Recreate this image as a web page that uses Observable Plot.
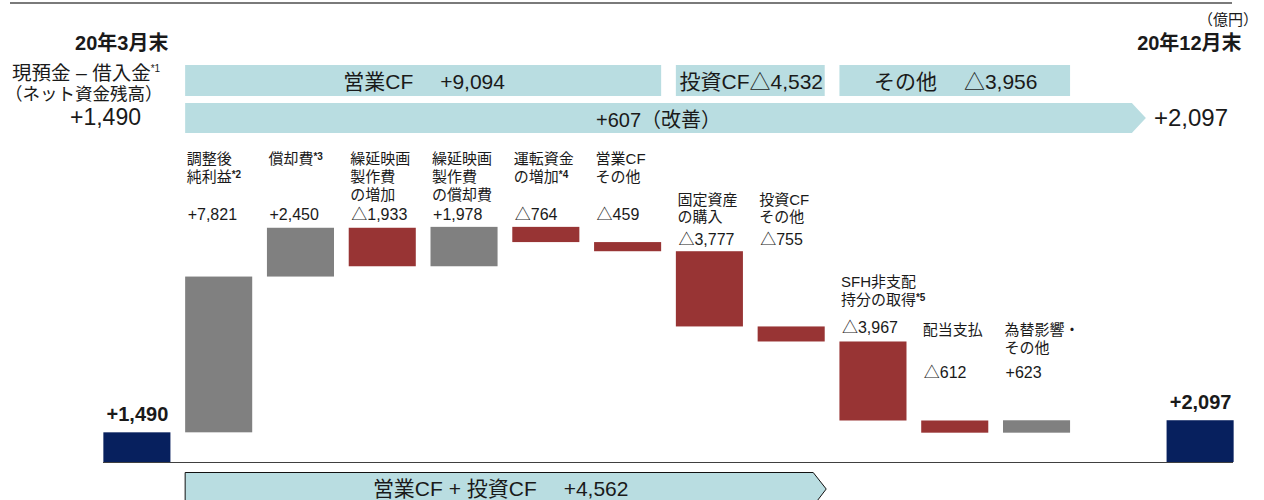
<!DOCTYPE html>
<html><head><meta charset="utf-8">
<script src="https://cdn.jsdelivr.net/npm/d3@7"></script>
<script src="https://cdn.jsdelivr.net/npm/@observablehq/plot@0.6"></script>
<style>
html,body{margin:0;padding:0;background:#fff;}
#chart{width:1264px;height:500px;overflow:hidden;position:relative;}
</style></head><body><div id="chart"></div>
<script>
// ---------- data ----------
const startTitle = "20年3月末";
const endTitle = "20年12月末";
const unitLabel = "（億円）";
const startValue = 1490;
const endValue = 2097;
const stepLabels = [
  "調整後\n純利益*2", "償却費*3", "繰延映画\n製作費\nの増加", "繰延映画\n製作費\nの償却費",
  "運転資金\nの増加*4", "営業CF\nその他", "固定資産\nの購入", "投資CF\nその他",
  "SFH非支配\n持分の取得*5", "配当支払", "為替影響・\nその他"
];
const stepValues = [7821, 2450, -1933, 1978, -764, -459, -3777, -755, -3967, -612, 623];
const stepGroups = ["A", "A", "A", "A", "A", "A", "B", "B", "C", "D", "D"];
const summaryNames = ["営業CF", "投資CF", "その他"];
const summaryValues = [9094, -4532, -3956];
const summaryFirst = [1, 7, 9];
const summaryLast = [6, 8, 11];
const netChange = 607;
const netNote = "（改善）";
const opInvName = "営業CF + 投資CF";
const opInvValue = 4562;

// ---------- layout / style ----------
const FONT = '"Liberation Sans", Arial, "Noto Sans CJK JP", sans-serif';
const INK = "#1a1a1a";
const colors = {total: "#07205e", pos: "#808080", neg: "#983434"};
const bannerFill = "#b9dde1";
const groupLayout = {
  A: {valueDy: -12, labelDy: -76},
  B: {valueDy: -12, labelDy: -60},
  C: {valueDy: -14, labelDy: -68},
  D: {valueDy: -48, labelDy: -99}
};

const fmt = d3.format(",");
const signed = v => (v < 0 ? "△" : "+") + fmt(Math.abs(v));

const keys = d3.range(stepValues.length + 3).map(String); // start, steps, gap, end
const totals = [
  {key: keys[0], y1: 0, y2: startValue, kind: "total", text: signed(startValue)},
  {key: keys[keys.length - 1], y1: 0, y2: endValue, kind: "total", text: signed(endValue)}
];
const steps = [];
let run = startValue;
stepValues.forEach((v, i) => {
  steps.push({key: keys[i + 1], y1: run, y2: run + v, kind: v < 0 ? "neg" : "pos",
    label: stepLabels[i], text: signed(v), group: stepGroups[i]});
  run += v;
});
const groupTop = {};
for (const s of steps) groupTop[s.group] = Math.max(groupTop[s.group] ?? -Infinity, s.y1, s.y2);

const bandW = 67;
const groupMarks = Object.keys(groupLayout).flatMap(g => {
  const data = steps.filter(s => s.group === g);
  return [
    Plot.text(data, {x: "key", y: () => groupTop[g], text: "text", textAnchor: "start",
      lineAnchor: "middle", dx: -bandW / 2 + 2, dy: groupLayout[g].valueDy, fontSize: 16, fill: INK}),
    Plot.text(data, {x: "key", y: () => groupTop[g], text: "label", textAnchor: "start",
      lineAnchor: "top", lineHeight: 1.2, dx: -bandW / 2 + 1, dy: groupLayout[g].labelDy, fontSize: 15, fill: INK})
  ];
});

const plot = Plot.plot({
  width: 1264, height: 500,
  marginLeft: 96, marginRight: 23, marginTop: 223, marginBottom: 38,
  x: {type: "band", domain: keys, paddingInner: 0.18, paddingOuter: 0.09, round: false, axis: null},
  y: {domain: [0, 12000], axis: null},
  color: {domain: ["total", "pos", "neg"], range: [colors.total, colors.pos, colors.neg]},
  style: {fontFamily: FONT, background: "transparent", overflow: "visible", color: INK},
  marks: [
    Plot.ruleY([0], {stroke: "#404040", strokeWidth: 1.2, insetLeft: 7, insetRight: 8}),
    Plot.barY([...totals, ...steps], {x: "key", y1: "y1", y2: "y2", fill: "kind"}),
    Plot.text(totals, {x: "key", y: "y2", text: "text", dy: -18, fontSize: 20, fontWeight: "bold", fill: INK}),
    ...groupMarks
  ]
});
document.getElementById("chart").appendChild(plot);

// ---------- annotations using the plot's x scale ----------
const svg = d3.select(plot);
const xs = plot.scale("x");
const bw = xs.bandwidth;
const left = k => xs.apply(keys[k]);
const right = k => xs.apply(keys[k]) + bw;

// superscripts for footnote marks
svg.selectAll("text, tspan").each(function() {
  if (this.childNodes.length !== 1 || this.firstChild.nodeType !== 3) return;
  const m = this.textContent.match(/^(.*)(\*\d)$/);
  if (!m) return;
  this.textContent = m[1];
  d3.select(this).append("tspan").attr("font-size", 10).attr("font-weight", "bold")
    .attr("baseline-shift", "40%").text(m[2]);
});

const g = svg.append("g").attr("font-family", FONT).attr("fill", INK).attr("text-anchor", "start");
const txt = (x, y, size, anchor, s) => g.append("text").attr("x", x).attr("y", y)
  .attr("font-size", size).attr("text-anchor", anchor).attr("dominant-baseline", "central")
  .style("white-space", "pre").text(s);

// top rule & unit
g.append("line").attr("x1", 10).attr("x2", 1232).attr("y1", 3).attr("y2", 3)
  .attr("stroke", "#7a7a7a").attr("stroke-width", 2);
txt(1258, 19, 15, "end", unitLabel);

// titles
txt(right(0) - 2, 43, 20, "end", startTitle).attr("font-weight", "bold");
txt(right(keys.length - 1) + 8, 43, 20, "end", endTitle).attr("font-weight", "bold");
const l1 = txt(12, 73, 19.5, "start", "");
l1.append("tspan").text("現預金 – 借入金");
l1.append("tspan").attr("font-size", 10).attr("baseline-shift", "50%").text("*1");
txt(5, 94, 17.5, "start", "（ネット資金残高）");
txt(141, 117, 23, "end", signed(startValue));
txt(1228, 117, 24, "end", signed(endValue));

// summary banners row 1
const bannerTexts = [
  `${summaryNames[0]}\u3000 ${signed(summaryValues[0])}`,
  `${summaryNames[1]}${signed(summaryValues[1])}`,
  `${summaryNames[2]}\u3000 ${signed(summaryValues[2])}`
];
summaryNames.forEach((n, i) => {
  const x0 = left(summaryFirst[i]), x1 = right(summaryLast[i]);
  g.append("rect").attr("x", x0).attr("y", 65).attr("width", x1 - x0).attr("height", 31).attr("fill", bannerFill);
  txt((x0 + x1) / 2 + 1, 81.5, 21, "middle", bannerTexts[i]);
});

// net change arrow row 2
{
  const x0 = left(1), tip = right(keys.length - 2) - 6, body = tip - 14;
  g.append("polygon").attr("fill", bannerFill)
    .attr("points", [[x0, 103], [body, 103], [tip, 118], [body, 133], [x0, 133]].map(p => p.join(",")).join(" "));
  txt((x0 + body) / 2, 119.5, 20, "middle", signed(netChange) + netNote);
}

// operating + investing arrow at bottom
{
  const x0 = left(1), tip = right(8) + 1.5, body = tip - 13;
  g.append("polygon").attr("fill", bannerFill).attr("stroke", "#111").attr("stroke-width", 1)
    .attr("points", [[x0, 472.5], [body, 472.5], [tip, 489], [body, 506], [x0, 506]].map(p => p.join(",")).join(" "));
  txt((x0 + tip) / 2 - 5, 488, 21, "middle", `${opInvName}\u3000 ${signed(opInvValue)}`);
}
</script>
</body></html>
